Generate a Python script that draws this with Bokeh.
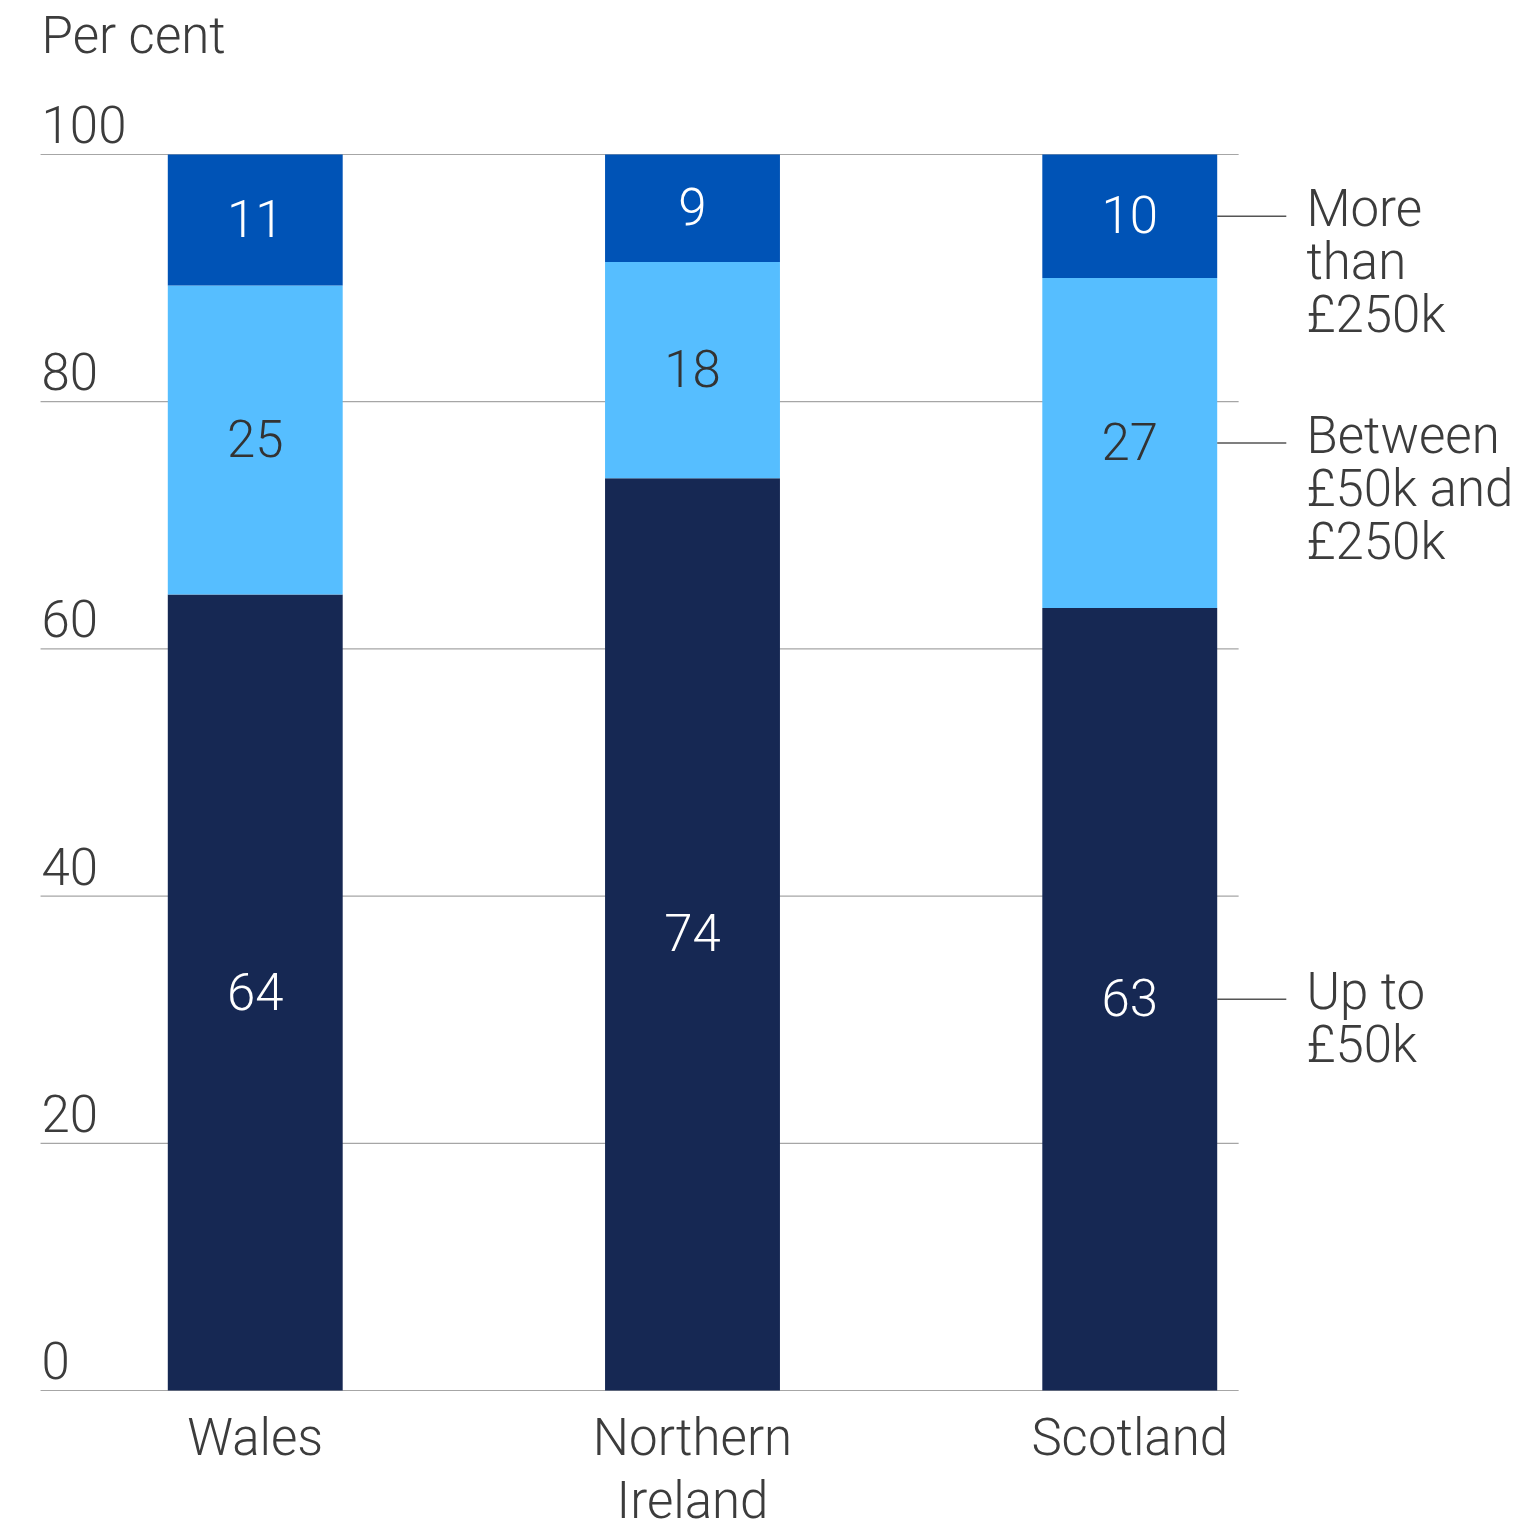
from bokeh.plotting import figure
from bokeh.models import Range1d
from bokeh.core.properties import value
from bokeh.embed import file_html
from bokeh.resources import INLINE

# ---- data ----
categories = ["Wales", "Northern\nIreland", "Scotland"]
up_to_50k = [64.4, 73.8, 63.3]
between_50k_250k = [25.0, 17.5, 26.7]
more_than_250k = [10.6, 8.7, 10.0]
labels_up_to_50k = ["64", "74", "63"]
labels_between = ["25", "18", "27"]
labels_more_than = ["11", "9", "10"]
series_names = ["Up to\n£50k", "Between\n£50k and\n£250k", "More\nthan\n£250k"]
y_ticks = [0, 20, 40, 60, 80, 100]
y_title = "Per cent"

# ---- style ----
FONT = value("Roboto Light")
FS = "51px"
TXT = "#3c3c3c"
colors = ["#162853", "#56BEFF", "#0053B6"]
label_colors = ["#ffffff", "#333333", "#ffffff"]

W, H = 1522, 1524
p = figure(width=W, height=H, output_backend="svg", toolbar_location=None,
           x_range=Range1d(-0.5826, 2.8982), y_range=Range1d(-10.84, 112.46),
           x_axis_location=None, y_axis_location=None, min_border=0)
p.outline_line_color = None
p.grid.visible = False
p.background_fill_color = "white"
p.border_fill_color = "white"

xs = list(range(len(categories)))
bar_w = 0.40
grid_x0, grid_x1 = -0.491, 2.249

# gridlines
p.segment(x0=[grid_x0] * len(y_ticks), x1=[grid_x1] * len(y_ticks), y0=y_ticks, y1=y_ticks,
          line_color="#a6a6a6", line_width=1.2)

# stacked bars
series = [up_to_50k, between_50k_250k, more_than_250k]
series_labels = [labels_up_to_50k, labels_between, labels_more_than]
bottoms = [0.0] * len(categories)
mids_all = []
for vals, col, labs, lc in zip(series, colors, series_labels, label_colors):
    tops = [b + v for b, v in zip(bottoms, vals)]
    p.vbar(x=xs, bottom=bottoms, top=tops, width=bar_w, fill_color=col, line_color=None)
    mids = [(b + t) / 2 for b, t in zip(bottoms, tops)]
    mids_all.append(mids)
    p.text(x=xs, y=mids, text=labs, text_font=FONT, text_font_size=FS, text_color=lc,
           text_align="center", text_baseline="alphabetic", y_offset=-1.5)
    bottoms = tops

# y tick labels (sit above gridlines at left)
p.text(x=[grid_x0] * len(y_ticks), y=y_ticks, text=[str(t) for t in y_ticks],
       text_font=FONT, text_font_size=FS, text_color=TXT, text_align="left",
       text_baseline="alphabetic", x_offset=1, y_offset=-30)

# y title
p.text(x=[grid_x0], y=[y_ticks[-1]], text=[y_title], text_font=FONT, text_font_size=FS,
       text_color=TXT, text_align="left", text_baseline="alphabetic", x_offset=1, y_offset=-119)

# category labels
for x, cat in zip(xs, categories):
    for k, line in enumerate(cat.split("\n")):
        p.text(x=[x], y=[0], text=[line], text_font=FONT, text_font_size=FS, text_color=TXT,
               text_align="center", text_baseline="alphabetic", y_offset=47 + 63 * k)

# legend with leader lines from last bar
last = len(categories) - 1
lead_x0 = last + bar_w / 2
lead_x1 = 2.358
text_x = 2.404
for name, mids in zip(series_names, mids_all):
    ly = mids[last]
    p.segment(x0=[lead_x0], x1=[lead_x1], y0=[ly], y1=[ly], line_color="#555555", line_width=1.5)
    for k, line in enumerate(name.split("\n")):
        p.text(x=[text_x], y=[ly], text=[line], text_font=FONT, text_font_size=FS, text_color=TXT,
               text_align="left", text_baseline="alphabetic", y_offset=-7.5 + 53 * k)

open("out.html", "w").write(file_html(p, INLINE))
